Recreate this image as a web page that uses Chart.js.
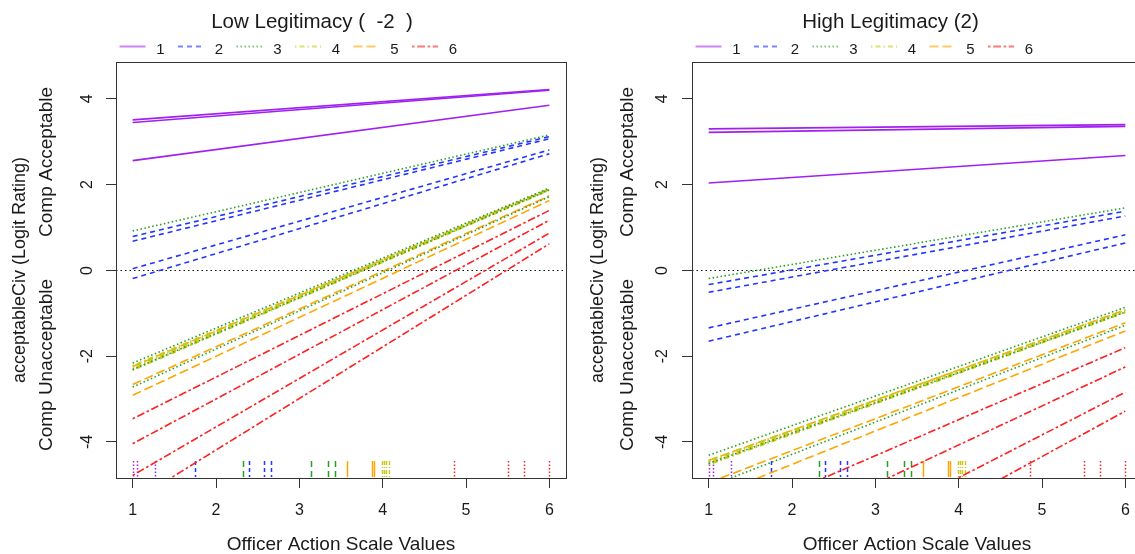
<!DOCTYPE html>
<html>
<head>
<meta charset="utf-8">
<script src="https://cdn.jsdelivr.net/npm/chart.js@4.4.1/dist/chart.umd.min.js"></script>
<style>
  html, body { margin: 0; padding: 0; background: #fff; width: 1135px; height: 554px; overflow: hidden; }
  canvas { position: absolute; top: 0; }
  #lowCanvas { left: 0; }
  #highCanvas { left: 570px; }
</style>
</head>
<body>
<canvas id="lowCanvas" width="570" height="554"></canvas>
<canvas id="highCanvas" width="585" height="554"></canvas>
<script>
// Axis ticks and group names
const xTicks = [1, 2, 3, 4, 5, 6];
const yTicks = [-4, -2, 0, 2, 4];
const groupNames = ['1', '2', '3', '4', '5', '6'];

// Predicted logit rating at Officer Action = 1 and = 6, one inner list per group
const lowAt1 = [
  [3.51, 3.45, 2.56],
  [0.79, 0.68, 0.04, -0.19],
  [0.92, -2.16, -2.31, -2.72],
  [-2.22, -2.26, -2.30, -2.33],
  [-2.24, -2.66, -2.91],
  [-3.46, -4.04, -4.78, -5.39]
];
const lowAt6 = [
  [4.22, 4.20, 3.85],
  [3.12, 3.07, 2.81, 2.72],
  [3.16, 1.92, 1.88, 1.72],
  [1.90, 1.89, 1.88, 1.87],
  [1.90, 1.74, 1.63],
  [1.40, 1.17, 0.87, 0.62]
];
const highAt1 = [
  [3.30, 3.22, 2.04],
  [-0.33, -0.51, -1.34, -1.65],
  [-0.19, -4.31, -4.50, -5.04],
  [-4.43, -4.47, -4.51, -4.53],
  [-4.43, -4.95, -5.30],
  [-6.00, -6.80, -7.82, -8.58]
];
const highAt6 = [
  [3.40, 3.36, 2.68],
  [1.38, 1.27, 0.83, 0.64],
  [1.46, -0.86, -0.97, -1.28],
  [-0.92, -0.94, -0.97, -0.98],
  [-0.92, -1.22, -1.41],
  [-1.80, -2.25, -2.84, -3.28]
];

// Observed Officer Action values per group (rug)
const rugX = [
  [1.00, 1.05, 1.27],
  [1.75, 2.39, 2.57, 2.66],
  [2.32, 3.14, 3.34, 3.43],
  [3.99, 4.02, 4.04, 4.07],
  [3.57, 3.87, 3.89],
  [4.86, 5.50, 5.69, 6.00]
];

// Styles per group
const groupColors = ['#a020f0', '#2336ff', '#25a025', '#c9c91c', '#ffa500', '#ff2020'];
const legendColors = ['rgba(160,32,240,0.55)', 'rgba(35,54,255,0.6)', 'rgba(37,160,37,0.6)',
                      'rgba(201,201,28,0.6)', 'rgba(255,165,0,0.6)', 'rgba(255,32,32,0.6)'];
const groupDash = [[], [5, 4], [1.5, 2.5], [1.5, 3, 5, 3], [9, 4], [2.6, 2.6, 7.8, 2.6]];
const rugDash = [[1.5, 2], [4, 3], [6, 4], [4, 2, 1, 2], [], [1.5, 2]];

const FONT = '"Liberation Sans", Arial, sans-serif';

function buildDatasets(at1, at6) {
  const sets = [];
  at1.forEach((starts, g) => {
    starts.forEach((v, i) => {
      sets.push({
        data: [{ x: xTicks[0], y: v }, { x: xTicks[xTicks.length - 1], y: at6[g][i] }],
        borderColor: groupColors[g],
        borderDash: groupDash[g],
        borderWidth: 1.6,
        pointRadius: 0,
        showLine: true,
        fill: false
      });
    });
  });
  return sets;
}

// Frame, reference line, rug, titles and labels
const decorations = {
  id: 'decorations',
  beforeDatasetsDraw(chart, args, o) {
    const { ctx, chartArea: a, scales: { x, y } } = chart;
    ctx.save();
    // dotted zero line
    ctx.strokeStyle = '#111';
    ctx.lineWidth = 1.2;
    ctx.setLineDash([1.5, 3]);
    const y0 = Math.round(y.getPixelForValue(0)) + 0.5;
    ctx.beginPath(); ctx.moveTo(a.left, y0); ctx.lineTo(a.right, y0); ctx.stroke();
    // rug
    ctx.lineWidth = 1.5;
    rugX.forEach((xs, g) => {
      ctx.strokeStyle = groupColors[g];
      ctx.setLineDash(rugDash[g]);
      xs.forEach(v => {
        const px = Math.round(x.getPixelForValue(v)) + 0.5;
        ctx.beginPath(); ctx.moveTo(px, a.bottom - 17); ctx.lineTo(px, a.bottom - 1); ctx.stroke();
      });
    });
    ctx.restore();
  },
  afterDraw(chart, args, o) {
    const { ctx, chartArea: a, scales: { x, y } } = chart;
    ctx.save();
    // plot frame
    ctx.strokeStyle = '#333';
    ctx.lineWidth = 1;
    ctx.setLineDash([]);
    ctx.strokeRect(a.left + 0.5, a.top + 0.5, a.right - a.left, a.bottom - a.top);

    ctx.fillStyle = '#1a1a1a';
    // title
    ctx.font = '20.5px ' + FONT;
    ctx.textAlign = 'center';
    ctx.textBaseline = 'alphabetic';
    ctx.fillText(o.title, a.left + o.titleDx, 27.5);

    // legend
    ctx.font = '15px ' + FONT;
    groupNames.forEach((name, g) => {
      const lx = a.left + 3.5 + g * 58.5;
      ctx.strokeStyle = legendColors[g];
      ctx.lineWidth = 2;
      ctx.setLineDash(groupDash[g]);
      ctx.beginPath(); ctx.moveTo(lx, 46.5); ctx.lineTo(lx + 26, 46.5); ctx.stroke();
      ctx.setLineDash([]);
      ctx.fillText(name, lx + 41, 53.5);
    });

    // y tick labels, rotated
    ctx.font = '16px ' + FONT;
    yTicks.forEach(v => {
      ctx.save();
      ctx.translate(a.left - o.tickLabelGap, y.getPixelForValue(v));
      ctx.rotate(-Math.PI / 2);
      ctx.textBaseline = 'middle';
      ctx.fillText(String(v), 0, 0);
      ctx.restore();
    });

    // x tick labels
    ctx.textBaseline = 'alphabetic';
    xTicks.forEach(v => ctx.fillText(String(v), x.getPixelForValue(v), 515));

    // axis titles
    ctx.font = '19px ' + FONT;
    ctx.fillText('Officer Action Scale Values', (a.left + a.right) / 2, 549.5);
    const vert = (text, px, py, size) => {
      ctx.save();
      ctx.font = size + 'px ' + FONT;
      ctx.translate(px, py);
      ctx.rotate(-Math.PI / 2);
      ctx.textBaseline = 'middle';
      ctx.fillText(text, 0, 0);
      ctx.restore();
    };
    vert('acceptableCiv (Logit Rating)', a.left - o.yTitleGap, (a.top + a.bottom) / 2, 18);
    vert('Comp Acceptable', a.left - o.sideGap, 162, 19);
    vert('Comp Unacceptable', a.left - o.sideGap, 365, 19);
    ctx.restore();
  }
};

function makePanel(canvasId, at1, at6, opts) {
  const tickGrid = {
    display: true, drawOnChartArea: false, drawTicks: true,
    tickLength: 10, color: '#333', lineWidth: 1
  };
  return new Chart(document.getElementById(canvasId), {
    type: 'scatter',
    data: { datasets: buildDatasets(at1, at6) },
    options: {
      responsive: false,
      animation: false,
      events: [],
      layout: { padding: { top: 62, left: 0, right: opts.rightPad, bottom: 0 } },
      plugins: {
        legend: { display: false },
        tooltip: { enabled: false },
        decorations: opts
      },
      scales: {
        x: {
          type: 'linear', min: 0.8, max: 6.2,
          afterBuildTicks: s => { s.ticks = xTicks.map(v => ({ value: v })); },
          grid: tickGrid,
          border: { display: false },
          ticks: { display: false },
          afterFit: s => { s.height = 76; }
        },
        y: {
          type: 'linear', min: -4.84, max: 4.86,
          afterBuildTicks: s => { s.ticks = yTicks.map(v => ({ value: v })); },
          grid: tickGrid,
          border: { display: false },
          ticks: { display: false },
          afterFit: s => { s.width = opts.axisWidth; }
        }
      }
    },
    plugins: [decorations]
  });
}

makePanel('lowCanvas', lowAt1, lowAt6, {
  title: 'Low Legitimacy (  -2  )', titleDx: 196,
  rightPad: 4, axisWidth: 116,
  tickLabelGap: 28, yTitleGap: 96, sideGap: 69
});
makePanel('highCanvas', highAt1, highAt6, {
  title: 'High Legitimacy (2)', titleDx: 198.5,
  rightPad: 13, axisWidth: 122,
  tickLabelGap: 29, yTitleGap: 94, sideGap: 64
});
</script>
</body>
</html>
